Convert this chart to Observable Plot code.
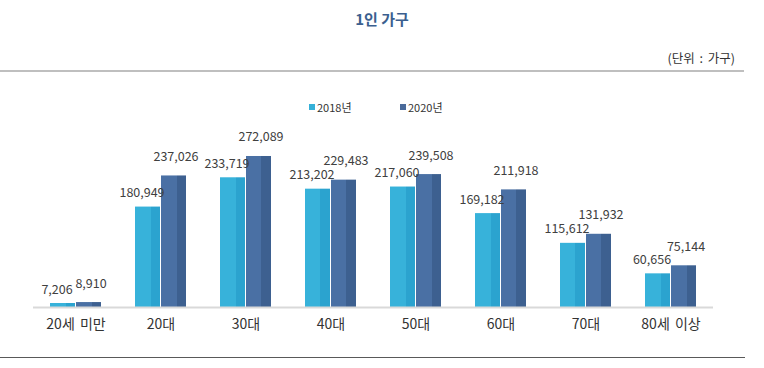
<!DOCTYPE html>
<html><head><meta charset="utf-8">
<script src="https://cdn.jsdelivr.net/npm/d3@7"></script>
<script src="https://cdn.jsdelivr.net/npm/@observablehq/plot@0.6"></script>
<style>
body{margin:0;width:764px;height:368px;background:#fff;font-family:"Noto Sans CJK KR","Noto Sans",sans-serif;position:relative;overflow:hidden}
#title{position:absolute;top:8px;left:0;width:764px;text-align:center;font-size:15px;font-weight:bold;color:#3b5f8f}
#unit{position:absolute;top:48px;right:29px;font-size:12.5px;color:#333;word-spacing:2px}
#topline{position:absolute;top:70px;left:0;width:744px;height:2px;background:#bfbfbf}
#botline{position:absolute;top:357px;left:0;width:745px;height:1px;background:#595959}
.leg{position:absolute;top:99px;font-size:11px;color:#333;display:flex;align-items:center}
.leg i{display:inline-block;width:6px;height:6px;margin-right:2px}
#chart{position:absolute;top:0;left:0}
</style></head>
<body>
<div id="chart"></div>
<div id="title">1인 가구</div>
<div id="unit">(단위 : 가구)</div>
<div id="topline"></div>
<div id="botline"></div>
<div class="leg" style="left:309px"><i style="background:#35b0d8"></i>2018년</div>
<div class="leg" style="left:400px"><i style="background:#4a6a9a"></i>2020년</div>
<script>
const categories = ["20세 미만","20대","30대","40대","50대","60대","70대","80세 이상"];
const years = ["2018년","2020년"];
const values2018 = [7206,180949,233719,213202,217060,169182,115612,60656];
const values2020 = [8910,237026,272089,229483,239508,211918,131932,75144];

const data = [];
categories.forEach((c,i)=>{
  data.push({cat:c, year:years[0], v:values2018[i]});
  data.push({cat:c, year:years[1], v:values2020[i]});
});
const d18 = data.filter(d=>d.year===years[0]);
const d20 = data.filter(d=>d.year===years[1]);
const fmt = d3.format(",");
const font = '"Noto Sans CJK KR","Noto Sans",sans-serif';

const plot = Plot.plot({
  width: 764,
  height: 368,
  marginLeft: 31,
  marginRight: 50,
  marginTop: 140.5,
  marginBottom: 61,
  style: {fontFamily: font, background: "transparent"},
  fx: {domain: categories, padding: 0, label: null, axis: "bottom", tickSize: 0, tickPadding: 12},
  x: {domain: years, paddingInner: 0.02, paddingOuter: 0.6, axis: null},
  y: {domain: [0, 300000], axis: null},
  marks: [
    Plot.barY(d18, {fx: "cat", x: "year", y: "v", fill: "url(#g18)"}),
    Plot.barY(d20, {fx: "cat", x: "year", y: "v", fill: "url(#g20)"}),
    Plot.ruleY([0], {stroke: "#d9d9d9", strokeWidth: 2}),
    Plot.text(d18, {fx: "cat", x: "year", y: "v", text: d=>fmt(d.v), dy: -14, dx: -6, fontSize: 12.5, fill: "#404040"}),
    Plot.text(d20, {fx: "cat", x: "year", y: "v", text: d=>fmt(d.v), dy: -19, dx: 2, fontSize: 12.5, fill: "#404040"})
  ]
});

const svg = d3.select(plot);
const defs = svg.insert("defs", ":first-child");
function grad(id, c1, c2){
  const g = defs.append("linearGradient").attr("id", id).attr("x1","0").attr("x2","1").attr("y1","0").attr("y2","0");
  g.append("stop").attr("offset","0").attr("stop-color",c1);
  g.append("stop").attr("offset","0.62").attr("stop-color",c1);
  g.append("stop").attr("offset","0.62").attr("stop-color",c2);
  g.append("stop").attr("offset","1").attr("stop-color",c2);
}
grad("g18", "#37b2da", "#2ba3cf");
grad("g20", "#4a70a4", "#3d6090");
svg.selectAll("g[aria-label='fx-axis tick label']").attr("font-size", "14px").attr("fill", "#333").attr("word-spacing", "2px");
document.getElementById("chart").appendChild(plot);
</script>
</body></html>
